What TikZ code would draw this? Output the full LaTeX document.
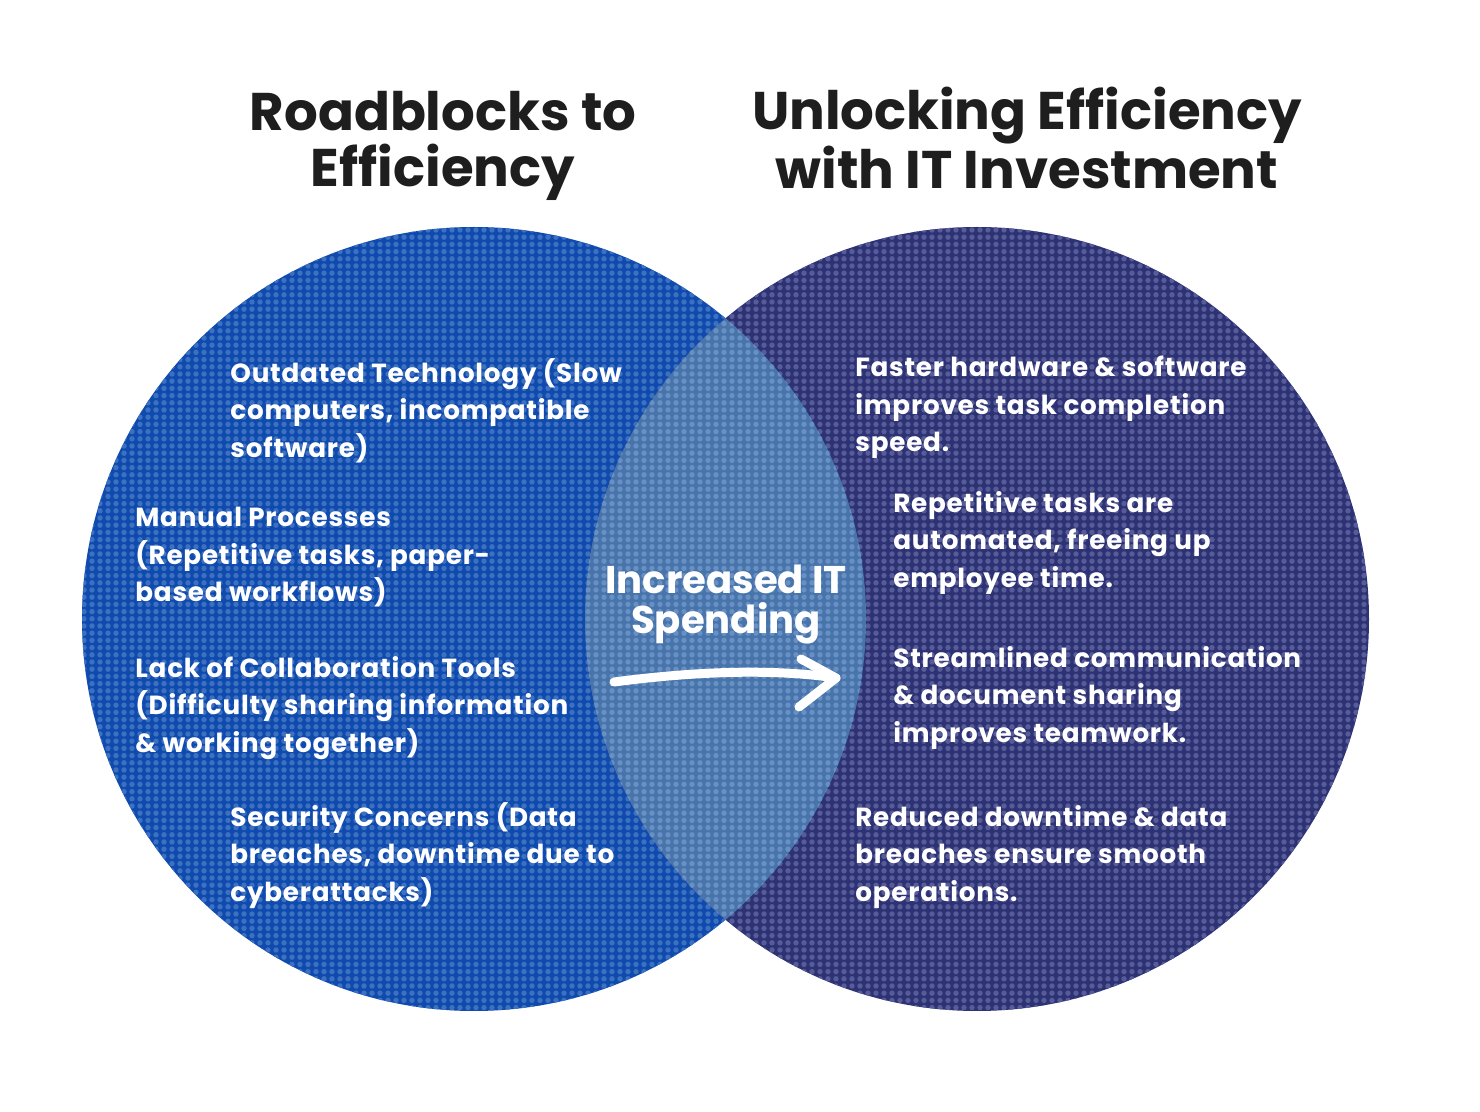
\documentclass[tikz,border=0pt]{standalone}
\usepackage{fontspec}
\setmainfont{Poppins}
\usetikzlibrary{patterns}
\pgfdeclarepatternformonly{texdots}{\pgfpoint{-1pt}{-1pt}}{\pgfpoint{5pt}{5pt}}{\pgfpoint{4pt}{3.6pt}}{%
  \pgfpathcircle{\pgfpoint{2pt}{1.8pt}}{1.35pt}\pgfusepath{fill}}
\definecolor{lbase}{HTML}{0F4BAF}
\definecolor{ldot}{HTML}{3E70C0}
\definecolor{rbase}{HTML}{2D3274}
\definecolor{rdot}{HTML}{575C98}
\definecolor{mbase}{HTML}{4874AC}
\definecolor{mdot}{HTML}{6890C2}
\definecolor{ink}{HTML}{1E1E1E}
\begin{document}
\begin{tikzpicture}[x=0.5pt,y=-0.5pt,
  head/.style={font=\bfseries\fontsize{26.5}{28}\selectfont, text=ink, align=center, inner sep=0pt},
  body/.style={font=\bfseries\fontsize{13.1}{18.75}\selectfont\addfontfeatures{LetterSpace=3}, text=white, align=left, anchor=north west, inner sep=0pt},
  midtxt/.style={font=\bfseries\fontsize{19.3}{20}\selectfont, text=white, align=center, inner sep=0pt}]
\useasboundingbox (0,0) rectangle (1480,1112);
\fill[white] (0,0) rectangle (1480,1112);
% circles
\coordinate (cl) at (474,619);
\coordinate (cr) at (977,619);
\fill[lbase] (cl) circle[radius=392];
\fill[pattern=texdots, pattern color=ldot] (cl) circle[radius=392];
\fill[rbase] (cr) circle[radius=392];
\fill[pattern=texdots, pattern color=rdot] (cr) circle[radius=392];
\begin{scope}
  \clip (cl) circle[radius=392];
  \fill[mbase] (cr) circle[radius=392];
  \fill[pattern=texdots, pattern color=mdot] (cr) circle[radius=392];
\end{scope}
% headings
\node[head] (hl) at (443,146) {Roadblocks to\\Efficiency};
\node[head] (hr) at (1027,138) {Unlocking Efficiency\\with IT Investment};
% left texts
\node[body] (l1) at (230,358) {Outdated Technology (Slow\\computers, incompatible\\software)};
\node[body] (l2) at (135,507) {Manual Processes\\(Repetitive tasks, paper-\\based workflows)};
\node[body] (l3) at (135,656) {Lack of Collaboration Tools\\(Difficulty sharing information\\\& working together)};
\node[body] (l4) at (230,802) {Security Concerns (Data\\breaches, downtime due to\\cyberattacks)};
% right texts
\node[body] (r1) at (855,356) {Faster hardware \& software\\improves task completion\\speed.};
\node[body] (r2) at (893,491) {Repetitive tasks are\\automated, freeing up\\employee time.};
\node[body] (r3) at (893,646) {Streamlined communication\\\& document sharing\\improves teamwork.};
\node[body] (r4) at (855,805) {Reduced downtime \& data\\breaches ensure smooth\\operations.};
% middle
\node[midtxt] (m) at (726,605) {Increased IT\\Spending};
\coordinate (a0) at (614,682);
\coordinate (a1) at (836,678);
\coordinate (h1) at (801,659);
\coordinate (h2) at (799,707);
\draw[white, line width=4.5pt, line cap=round, line join=round]
  (a0) .. controls (690,672) and (770,668) .. (a1);
\draw[white, line width=4.5pt, line cap=round, line join=round]
  (h1) -- (a1) -- (h2);
\end{tikzpicture}
\end{document}
